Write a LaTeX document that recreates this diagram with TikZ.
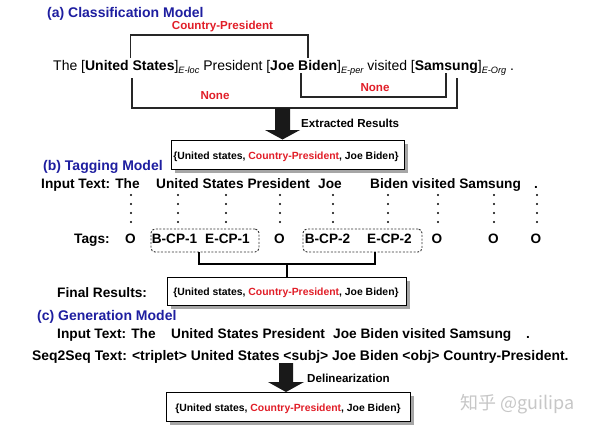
\documentclass[tikz,border=0pt]{standalone}
\usepackage{fontspec}
\setmainfont{Liberation Sans}
\newfontfamily\cjkfont{Noto Sans CJK SC}
\usetikzlibrary{shadows}
\definecolor{hblue}{RGB}{30,30,160}
\definecolor{rred}{RGB}{225,30,40}
\newcommand{\entsub}[1]{\raisebox{-3.5pt}{\fontsize{9.2}{10}\selectfont\itshape #1}}
\newcommand{\triple}{\{United states, \textcolor{rred}{Country-President}, Joe Biden\}}
\begin{document}
\begin{tikzpicture}[x=1pt,y=-1pt,
  txt/.style={inner sep=0pt, anchor=base west},
  head/.style={txt, font=\fontsize{14}{16}\selectfont\bfseries, text=hblue},
  bt/.style={txt, font=\fontsize{13.7}{16}\selectfont\bfseries},
  small/.style={txt, font=\fontsize{11.6}{13}\selectfont\bfseries},
  redl/.style={small, text=rred, anchor=base},
  boxt/.style={inner sep=0pt, anchor=base, font=\fontsize{10.4}{12}\selectfont\bfseries},
  resbox/.style={draw=black, line width=1pt, fill=white, anchor=north west, inner sep=0pt,
    drop shadow={shadow xshift=3pt, shadow yshift=-3pt, fill=black!35, opacity=1}},
  brk/.style={line width=1.1pt, draw=black!85},
  tbrk/.style={line width=2pt, draw=black},
  dbox/.style={draw=black!80, dash pattern=on 2pt off 1.6pt, rounded corners=4pt, line width=0.9pt, inner sep=0pt},
  tagt/.style={inner sep=0pt, anchor=base, font=\fontsize{13.6}{16}\selectfont\bfseries},
  bigarrow/.style={fill=black!90},
]
\useasboundingbox[fill=white] (0,0) rectangle (590,429);

% ---------------- (a) ----------------
\node[head] (headA) at (47,17) {(a) Classification Model};
\node[redl] (cpA) at (222.5,29.2) {Country-President};
\node[txt, font=\fontsize{14}{16}\selectfont] (sent) at (53,70)
  {The [\textbf{United States}]\entsub{E-loc} President [\textbf{Joe Biden}]\entsub{E-per} visited [\textbf{Samsung}]\entsub{E-Org}~.};
\coordinate (us) at (130.5,58);
\coordinate (jb) at (308,58);
\draw[brk] (us) |- (jb |- 0,35) -- (jb);
\coordinate (usb) at (132,78);
\coordinate (sgb) at (457,78);
\draw[brk] (usb) |- (sgb |- 0,108) -- (sgb);
\coordinate (jbb) at (301,73);
\coordinate (sgs) at (446,73);
\draw[brk] (jbb) |- (sgs |- 0,97) -- (sgs);
\node[redl] (noneA) at (215,99) {None};
\node[redl] (noneB) at (375,91.5) {None};

\fill[bigarrow] (275,108) -- (290,108) -- (290,130) -- (300,130) -- (282.5,139.5) -- (265,130) -- (275,130) -- cycle;
\node[small] (extr) at (301,127.7) {Extracted Results};

\node[resbox, minimum width=233pt, minimum height=29pt] (box1) at (171,140) {};
\node[boxt] (t1) at (286,159.3) {\triple};

% ---------------- (b) ----------------
\node[head] (headB) at (43,170.5) {(b) Tagging Model};
\node[bt] (bin1) at (41,188.3) {Input Text: The};
\node[bt] (bin2) at (156,188.3) {United States President};
\node[bt] (bin3) at (318,188.3) {Joe};
\node[bt] (bin4) at (370,188.3) {Biden visited Samsung};
\node[bt, anchor=base] (bin5) at (536,188.3) {.};

\foreach \x in {131,178,226,280,333,388,438,494,537}
  \foreach \y in {195,204,213,222}
    \fill (\x,\y) circle[radius=1.1pt];

\node[bt] (tagl) at (74,243.3) {Tags:};
\node[tagt] (tg1) at (130.5,243.3) {O};
\node[tagt] (tg2) at (174.5,243.3) {B-CP-1};
\node[tagt] (tg3) at (227.5,243.3) {E-CP-1};
\node[tagt] (tg4) at (279.5,243.3) {O};
\node[tagt] (tg5) at (327.5,243.3) {B-CP-2};
\node[tagt] (tg6) at (389.5,243.3) {E-CP-2};
\node[tagt] (tg7) at (437,243.3) {O};
\node[tagt] (tg8) at (493.5,243.3) {O};
\node[tagt] (tg9) at (536,243.3) {O};

\node[dbox, minimum width=108pt, minimum height=23pt] (g1) at (205,240.5) {};
\node[dbox, minimum width=119pt, minimum height=23pt] (g2) at (362.5,240.5) {};

\node[resbox, minimum width=239pt, minimum height=28pt] (box2) at (167,277) {};
\node[boxt] (t2) at (286,295.7) {\triple};
\node[bt] (fin) at (57,297.3) {Final Results:};

\coordinate (k1) at (199,264);
\coordinate (k2) at (375,264);
\coordinate (k0) at (287,264);
\draw[tbrk] (g1.south -| k1) -- (k1) -- (k2) -- (g2.south -| k2);
\draw[tbrk] (k0) -- (box2.north -| k0);

% ---------------- (c) ----------------
\node[head] (headC) at (37,320) {(c) Generation Model};
\node[bt] (cin1) at (57,338.3) {Input Text: The};
\node[bt] (cin2) at (171,338.3) {United States President};
\node[bt] (cin3) at (333,338.3) {Joe Biden visited Samsung};
\node[bt, anchor=base] (cin4) at (528,338.3) {.};
\node[bt, font=\fontsize{13.9}{16}\selectfont\bfseries] (seq) at (32,360.7) {Seq2Seq Text: <triplet> United States <subj> Joe Biden <obj> Country-President.};

\fill[bigarrow] (279,363) -- (293,363) -- (293,382) -- (304,382) -- (286,392) -- (268,382) -- (279,382) -- cycle;
\node[small] (delin) at (307,382.3) {Delinearization};

\node[resbox, minimum width=244pt, minimum height=29pt] (box3) at (166,392) {};
\node[boxt] (t3) at (288,411.7) {\triple};

\node[txt, font=\cjkfont\fontsize{18}{20}\selectfont, text=black!22] (wm) at (460,409) {知乎 @guilipa};
\end{tikzpicture}
\end{document}
